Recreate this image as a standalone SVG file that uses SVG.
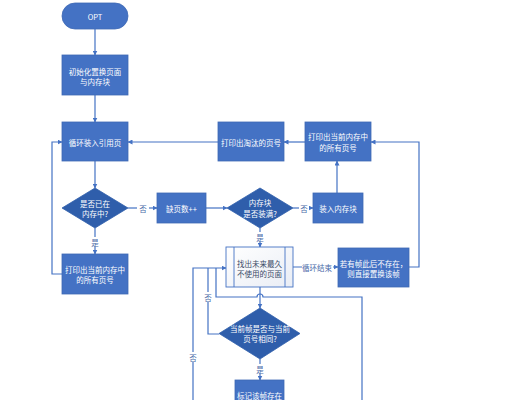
<svg xmlns="http://www.w3.org/2000/svg" width="516" height="400" viewBox="0 0 516 400">
<style>
.r{fill:#4472C4;stroke:#3F69B5;stroke-width:0.8}
.d{fill:#2F5EAB;stroke:#2F5EAB;stroke-width:0.8}
.t{font-family:"Noto Sans CJK SC","Noto Sans",sans-serif;font-size:7.5px;fill:#FFFFFF;text-anchor:middle;dominant-baseline:central}
.tk{fill:#3B4A66}
.c{fill:none;stroke:#4472C4;stroke-width:1.2}
.lb{font-family:"Noto Sans CJK SC","Noto Sans",sans-serif;font-size:7.5px;fill:#4A6AA8;text-anchor:middle;dominant-baseline:central}
.bg{fill:#FFFFFF}
</style>
<defs>
<marker id="a" viewBox="0 0 10 10" refX="9" refY="5" markerWidth="5" markerHeight="5" orient="auto" markerUnits="userSpaceOnUse">
<path d="M0,0 L10,5 L0,10 z" fill="#4472C4"/>
</marker>
<linearGradient id="g" x1="0" y1="0" x2="1" y2="1">
<stop offset="0" stop-color="#FFFFFF"/>
<stop offset="1" stop-color="#E9EDF5"/>
</linearGradient>
</defs>
<rect width="516" height="400" fill="#FFFFFF"/>
<g id="connectors">
<path class="c" d="M95 29 V55" marker-end="url(#a)"/>
<path class="c" d="M95 95 V122" marker-end="url(#a)"/>
<path class="c" d="M95 161 V188" marker-end="url(#a)"/>
<path class="c" d="M95 228 V254" marker-end="url(#a)"/>
<path class="c" d="M62 274 H52 V142 H62" marker-end="url(#a)"/>
<path class="c" d="M128 208 H157" marker-end="url(#a)"/>
<path class="c" d="M206 208 H227" marker-end="url(#a)"/>
<path class="c" d="M293 208 H313" marker-end="url(#a)"/>
<path class="c" d="M337 193 V161" marker-end="url(#a)"/>
<path class="c" d="M305 142 H284" marker-end="url(#a)"/>
<path class="c" d="M218 142 H128" marker-end="url(#a)"/>
<path class="c" d="M260 228 V247" marker-end="url(#a)"/>
<path class="c" d="M293 267 H338" marker-end="url(#a)"/>
<path class="c" d="M409 267 H419 V142 H371" marker-end="url(#a)"/>
<path class="c" d="M260 287 V308" marker-end="url(#a)"/>
<path class="c" d="M219 334 H208 V268"/>
<path class="c" d="M193 400 V268 H226" marker-end="url(#a)"/>
<path class="c" d="M362 400 V297 H263 A3 3 0 0 0 257 297 H216 V268"/>
<path class="c" d="M260 359 V380" marker-end="url(#a)"/>
<rect class="bg" x="137" y="203" width="12" height="10"/>
<text class="lb" x="143" y="208">否</text>
<rect class="bg" x="90" y="237" width="10" height="10"/>
<text class="lb" x="95" y="242">是</text>
<rect class="bg" x="299" y="203" width="10" height="10"/>
<text class="lb" x="304" y="208">否</text>
<rect class="bg" x="255" y="232" width="10" height="10"/>
<text class="lb" x="260" y="237">是</text>
<rect class="bg" x="302" y="262" width="31" height="10"/>
<text class="lb" x="317" y="267">循环结束</text>
<rect class="bg" x="203" y="292" width="10" height="10"/>
<text class="lb" x="208" y="297">否</text>
<rect class="bg" x="188" y="352" width="10" height="10"/>
<text class="lb" x="193" y="357">否</text>
<rect class="bg" x="255" y="364" width="10" height="10"/>
<text class="lb" x="260" y="369">是</text>
</g>
<g id="opt">
<rect class="r" x="62" y="3" width="66" height="26" rx="13"/>
<text class="t" x="95" y="16">OPT</text>
</g>
<g id="init">
<rect class="r" x="62" y="55" width="66" height="40"/>
<text class="t" x="95" y="71">初始化置换页面</text>
<text class="t" x="95" y="81">与内存块</text>
</g>
<g id="loop">
<rect class="r" x="62" y="122" width="66" height="39"/>
<text class="t" x="95" y="142">循环装入引用页</text>
</g>
<g id="inmem">
<polygon class="d" points="95,188 128,208 95,228 62,208"/>
<text class="t" x="95" y="203">是否已在</text>
<text class="t" x="95" y="213">内存中?</text>
</g>
<g id="printleft">
<rect class="r" x="62" y="254" width="66" height="40"/>
<text class="t" x="95" y="269">打印出当前内存中</text>
<text class="t" x="95" y="279">的所有页号</text>
</g>
<g id="miss">
<rect class="r" x="157" y="193" width="49" height="30"/>
<text class="t" x="181.5" y="208">缺页数++</text>
</g>
<g id="full">
<polygon class="d" points="260,188 293,208 260,228 227,208"/>
<text class="t" x="260" y="202">内存块</text>
<text class="t" x="260" y="213">是否装满?</text>
</g>
<g id="load">
<rect class="r" x="313" y="193" width="50" height="30"/>
<text class="t" x="338" y="208">装入内存块</text>
</g>
<g id="printright">
<rect class="r" x="305" y="122" width="66" height="39"/>
<text class="t" x="338" y="136">打印出当前内存中</text>
<text class="t" x="338" y="147">的所有页号</text>
</g>
<g id="evicted">
<rect class="r" x="218" y="122" width="66" height="39"/>
<text class="t" x="251" y="142">打印出淘汰的页号</text>
</g>
<g id="find">
<rect x="226" y="247" width="67" height="40" fill="url(#g)" stroke="#4472C4" stroke-width="0.9"/>
<line x1="234" y1="247" x2="234" y2="287" stroke="#4472C4" stroke-width="0.9"/>
<line x1="285" y1="247" x2="285" y2="287" stroke="#4472C4" stroke-width="0.9"/>
<text class="t tk" x="259.5" y="263">找出未来最久</text>
<text class="t tk" x="259.5" y="273">不使用的页面</text>
</g>
<g id="replace">
<rect class="r" x="338" y="248" width="71" height="39"/>
<text class="t" x="373.5" y="263">若有帧此后不存在，</text>
<text class="t" x="373.5" y="273">则直接置换该帧</text>
</g>
<g id="same">
<polygon class="d" points="260,308 300,333.5 260,359 219,333.5"/>
<text class="t" x="260" y="328">当前帧是否与当前</text>
<text class="t" x="260" y="338">页号相同?</text>
</g>
<g id="mark">
<rect class="r" x="235" y="380" width="49" height="30"/>
<text class="t" x="259.5" y="395">标记该帧存在</text>
</g>
</svg>
